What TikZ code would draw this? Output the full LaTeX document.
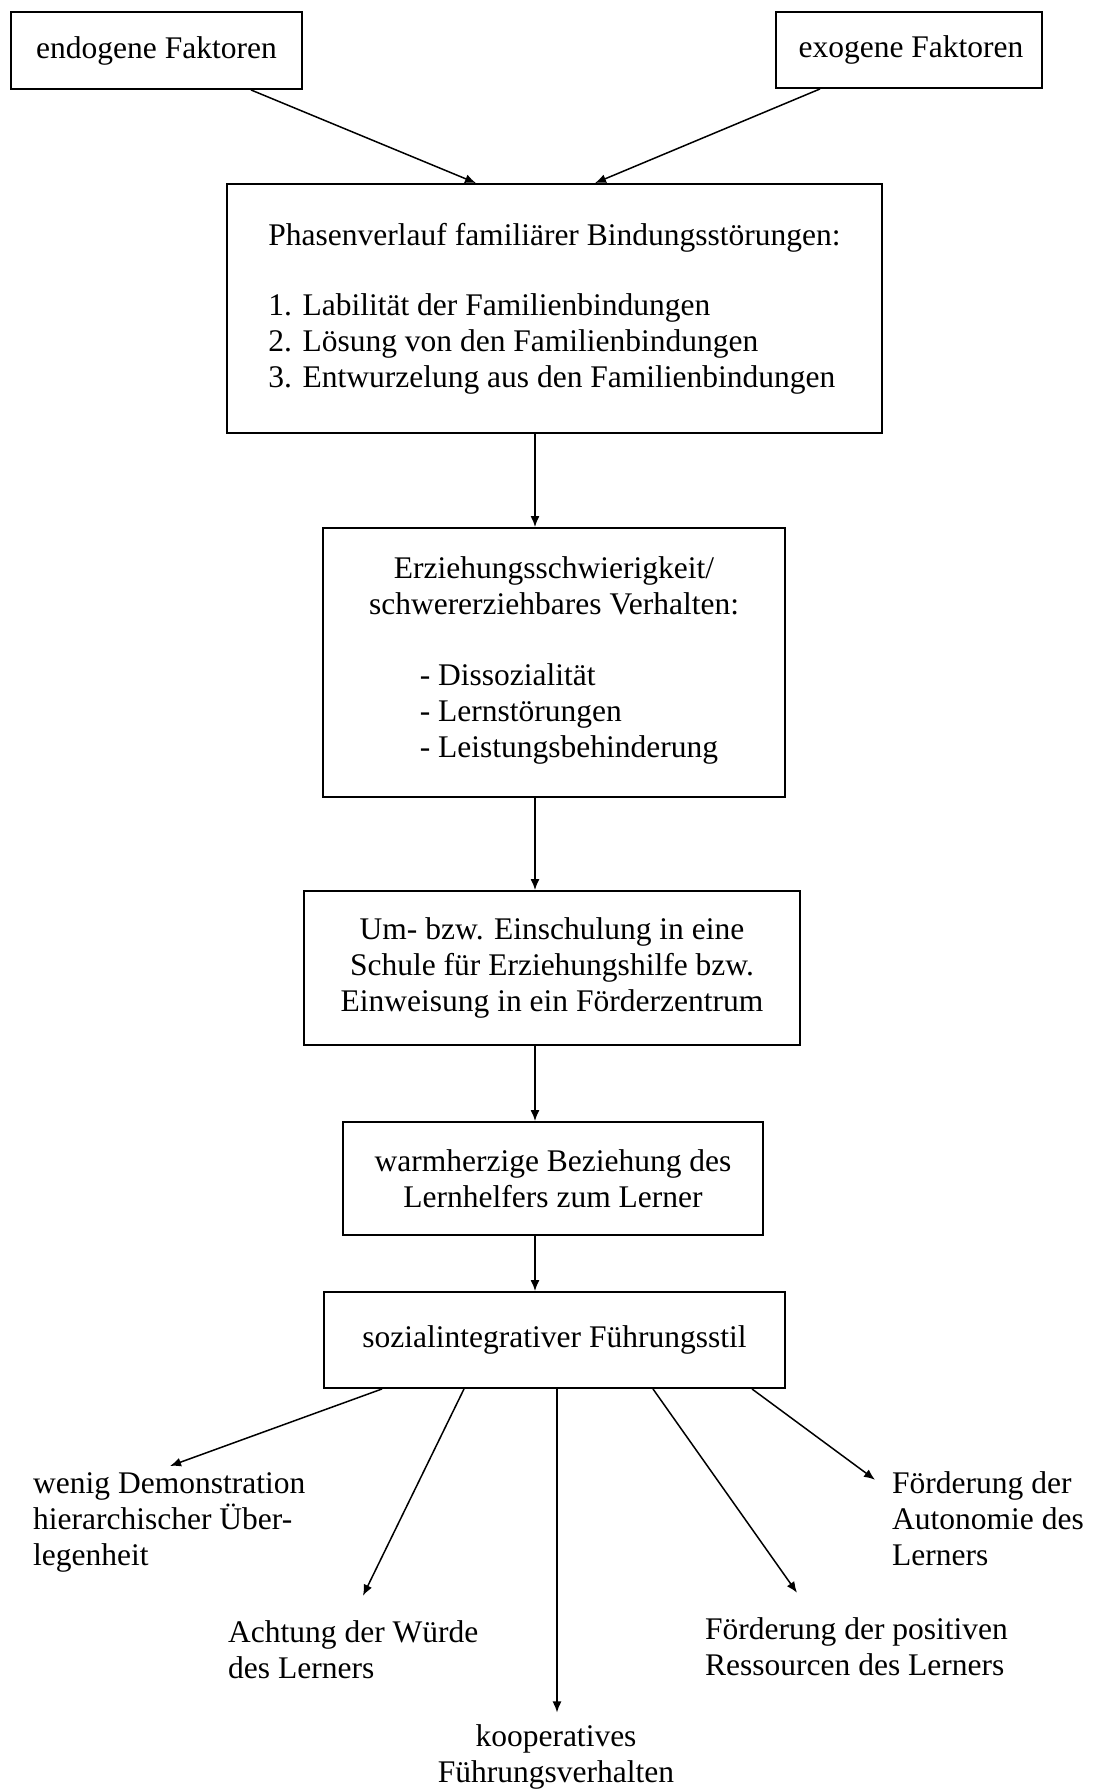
\documentclass[tikz,border=0pt]{standalone}
\usepackage{fontspec}
\setmainfont{Liberation Serif}
\usetikzlibrary{arrows.meta,calc}
\newcommand\diagfont{\fontsize{31.5}{36}\selectfont}
\begin{document}
\begin{tikzpicture}[x=1pt,y=1pt,
  box/.style={draw, line width=1.9pt, inner sep=0pt, align=center, font=\diagfont},
  lbl/.style={inner sep=0pt, font=\diagfont},
  arr/.style={line width=1.5pt, -{Latex[length=11pt,width=9pt]}}]
\useasboundingbox (0,0) rectangle (1099,-1789);

% boxes of the main chain
\node[box, minimum width=291pt, minimum height=77pt] (endo) at (156.5,-50.5) {endogene Faktoren};
\node[box, minimum width=266pt, minimum height=76pt] (exo) at (909,-50) {\hspace*{4pt}exogene Faktoren};
\node[box, minimum width=655pt, minimum height=249pt, align=left] (phase) at (554.5,-308.5)
  {Phasenverlauf familiärer Bindungsstörungen:\\[34pt]
   1. Labilität der Familienbindungen\\
   2. Lösung von den Familienbindungen\\
   3. Entwurzelung aus den Familienbindungen};
\node[box, minimum width=462pt, minimum height=269pt] (erz) at (554,-662.5)
  {Erziehungsschwierigkeit/\\schwerer\-ziehbares Verhalten:\\[35pt]
   \hspace*{30pt}\begin{tabular}[t]{@{}l@{}}- Dissozialität\\- Lernstörungen\\- Leistungsbehinderung\end{tabular}};
\node[box, minimum width=496pt, minimum height=154pt] (um) at (552,-968)
  {Um- bzw. Einschulung in eine\\Schule für Erziehungshilfe bzw.\\Einweisung in ein Förderzentrum};
\node[box, minimum width=420pt, minimum height=113pt] (warm) at (553,-1178.5)
  {warmherzige Beziehung des\\Lernhelfers zum Lerner};
\node[box, minimum width=461pt, minimum height=96pt] (soz) at (554.5,-1340)
  {sozialintegrativer Führungsstil};

% consequences of the leadership style
\node[lbl, anchor=west, align=left] (wenig) at (33,-1522)
  {wenig Demonstration\\hierarchischer Über-\\legenheit};
\node[lbl, anchor=west, align=left] (achtung) at (228,-1650)
  {Achtung der Würde\\des Lerners};
\node[lbl, align=center] (koop) at (556,-1757)
  {kooperatives\\Führungsverhalten};
\node[lbl, anchor=west, align=left] (ressourcen) at (705,-1647)
  {Förderung der positiven\\Ressourcen des Lerners};
\node[lbl, anchor=west, align=left] (autonomie) at (892,-1519)
  {Förderung der\\Autonomie des\\Lerners};

% connectors
\draw[arr] (endo.south -| 251,0) -- (phase.north -| 476,0);
\draw[arr] (exo.south -| 820,0) -- (phase.north -| 595,0);
\draw[arr] (phase.south -| 535,0) -- (erz.north -| 535,0);
\draw[arr] (erz.south -| 535,0) -- (um.north -| 535,0);
\draw[arr] (um.south -| 535,0) -- (warm.north -| 535,0);
\draw[arr] (warm.south -| 535,0) -- (soz.north -| 535,0);

\draw[arr] (soz.south -| 382,0) -- ($(wenig.north -| 170,0)+(0,6)$);
\draw[arr] (soz.south -| 464,0) -- ($(achtung.north -| 363,0)+(0,25)$);
\draw[arr] (soz.south -| 557,0) -- ($(koop.north)+(1,12)$);
\draw[arr] (soz.south -| 653,0) -- ($(ressourcen.north -| 797,0)+(0,25)$);
\draw[arr] (soz.south -| 752,0) -- ($(autonomie.north west)+(-17,-8)$);
\end{tikzpicture}
\end{document}
